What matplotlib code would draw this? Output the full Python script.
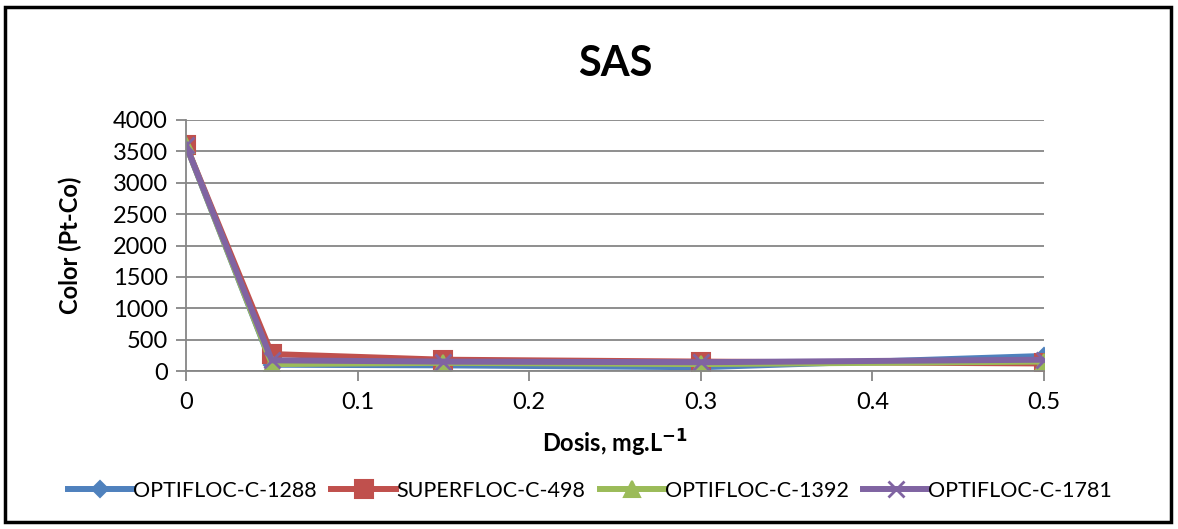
import matplotlib.pyplot as plt
from matplotlib.patches import Rectangle

plt.rcParams['font.family'] = ['Lato', 'DejaVu Sans']

# dose (mg/L) and colour readings for each flocculant
dosis = [0, 0.05, 0.15, 0.3, 0.5]
optifloc_1288 = [3600, 100, 90, 60, 240]
superfloc_498 = [3600, 270, 180, 150, 120]
optifloc_1392 = [3600, 110, 130, 110, 150]
optifloc_1781 = [3600, 170, 150, 140, 180]

names = ['OPTIFLOC-C-1288', 'SUPERFLOC-C-498', 'OPTIFLOC-C-1392', 'OPTIFLOC-C-1781']
series = [optifloc_1288, superfloc_498, optifloc_1392, optifloc_1781]
colors = ['#4F81BD', '#C0504D', '#9BBB59', '#8064A2']
markers = ['D', 's', '^', 'x']
msizes = [8, 13, 12, 11]

fig = plt.figure(figsize=(11.78, 5.29), dpi=100)
ax = fig.add_axes([186 / 1178, 1 - 371 / 529, (1044 - 186) / 1178, (371 - 120) / 529])

for vals, name, c, m, ms in zip(series, names, colors, markers, msizes):
    ax.plot(dosis, vals, color=c, lw=4.3, marker=m, markersize=ms,
            markeredgecolor=c, markeredgewidth=1.5 if m != 'x' else 2, label=name)

ax.set_xlim(0, 0.5)
ax.set_ylim(0, 4000)
ax.set_yticks(range(0, 4001, 500))
ax.set_xticks([0, 0.1, 0.2, 0.3, 0.4, 0.5])
ax.set_xticklabels(['0', '0.1', '0.2', '0.3', '0.4', '0.5'])
ax.grid(axis='y', color='#868686', lw=1.3)
ax.set_axisbelow(True)
for s in ['top', 'right']:
    ax.spines[s].set_visible(False)
for s in ['left', 'bottom']:
    ax.spines[s].set_color('#868686')
    ax.spines[s].set_linewidth(1.3)
ax.tick_params(colors='#868686', labelcolor='black', labelsize=17, length=7, width=1.3)
ax.tick_params(axis='y', pad=6)
ax.tick_params(axis='x', pad=8)

ax.set_title('SAS', fontsize=30, fontweight='bold', pad=32)
ax.set_ylabel('Color (Pt-Co)', fontsize=17, fontweight='bold', labelpad=22)
ax.set_xlabel('Dosis, mg.L$^{\\mathbf{-1}}$', fontsize=17, fontweight='bold', labelpad=11)

fig.legend(loc='center', bbox_to_anchor=(590 / 1178, 1 - 491 / 529), ncol=4,
           frameon=False, fontsize=15.5, handlelength=3.0, handletextpad=0.0,
           columnspacing=0.7)

fig.patches.append(Rectangle((5 / 1178, 7 / 529), 1166 / 1178, 515 / 529,
                             transform=fig.transFigure, fill=False,
                             edgecolor='black', lw=2.5))

fig.savefig('out.png', dpi=100)
